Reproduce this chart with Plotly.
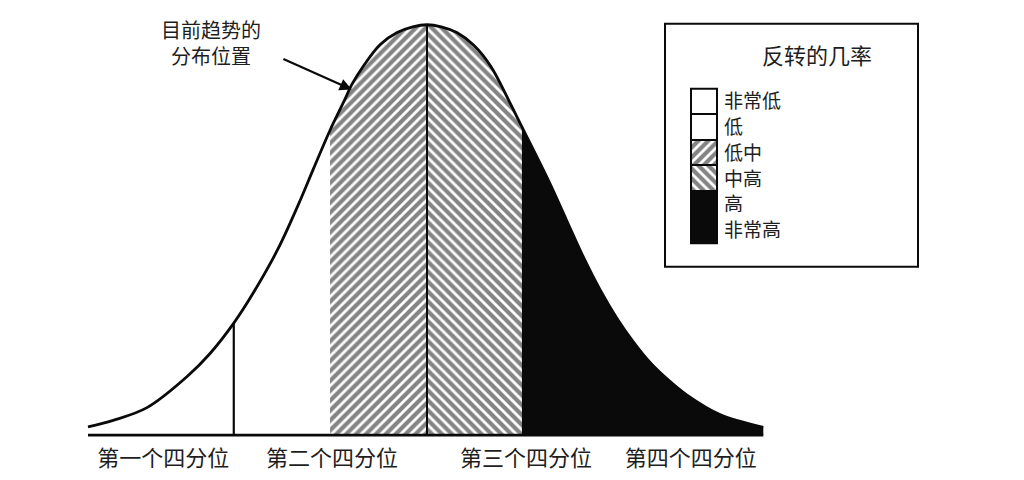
"""正态分布中的趋势位置与反转几率示意图"""
import plotly.graph_objects as go

# 分布曲线（读图估计，横轴以峰值为 0，纵轴峰值为 100）
curve_x = [-50, -46.3, -41.3, -35.3, -32, -28.5, -25.5, -22, -18.6, -16.8, -14.3, -12.2,
           -11.1, -9.4, -6.9, -4.4, -2.1, 0, 2.1, 4.4, 6.9, 9.4, 12.2, 14, 15.6, 18.1,
           20.6, 23, 25.5, 28, 30.4, 32.9, 35.4, 38.3, 43.2, 49.6]
curve_y = [2, 3.6, 6.7, 14.4, 19.9, 27.3, 35, 45.3, 57.6, 64.7, 74.3, 81.5,
           85.4, 89.9, 95.2, 98.1, 99.5, 100, 99.5, 98.1, 95, 89.9, 81.1, 75.1, 69.8, 61.4,
           52.3, 43.6, 35.5, 28.5, 22.8, 17.7, 13.7, 9.8, 5, 1.9]

# 分位边界
boundaries = [-28.5, -14.3, 0, 14]

# 横轴标签
quartile_pos = [-38.9, -14, 14.6, 38.9]
quartile_labels = ["第一个四分位", "第二个四分位", "第三个四分位", "第四个四分位"]

# 图例
legend_title = "反转的几率"
legend_labels = ["非常低", "低", "低中", "中高", "高", "非常高"]
legend_sizes = [1, 1, 1, 1, 1, 1]

note_text = "目前趋势的<br>分布位置"

# 页面有 8px 的边距，坐标按窗口像素换算
OFF = 8
W, H = 1024 - 2 * OFF, 480 - 2 * OFF
PLOT_BOTTOM = 448  # 窗口像素
INK = "#0a0a0a"
TXT = "#1e1e1e"
FONT = "Noto Sans CJK SC"


def px(x):
    return (x - OFF) / W


def py(y):
    return (PLOT_BOTTOM - y) / (PLOT_BOTTOM - OFF)


def segment(lo, hi):
    idx = [i for i, v in enumerate(curve_x) if lo <= v <= hi]
    return [curve_x[i] for i in idx], [curve_y[i] for i in idx]


def hatch(shape):
    return dict(shape=shape, fgcolor=INK, bgcolor="white", size=7, solidity=0.6)


fig = go.Figure()

# 阴影区域
sx, sy = segment(boundaries[1], boundaries[2])
fig.add_trace(go.Scatter(x=sx, y=sy, mode="lines", line=dict(width=0, shape="spline"),
                         fill="tozeroy", fillcolor="white", fillpattern=hatch("/")))
sx, sy = segment(boundaries[2], boundaries[3])
fig.add_trace(go.Scatter(x=sx, y=sy, mode="lines", line=dict(width=0, shape="spline"),
                         fill="tozeroy", fillcolor="white", fillpattern=hatch("\\")))
sx, sy = segment(boundaries[3], curve_x[-1])
fig.add_trace(go.Scatter(x=sx, y=sy, mode="lines", line=dict(width=0, shape="spline"),
                         fill="tozeroy", fillcolor=INK))

# 轮廓
fig.add_trace(go.Scatter(x=curve_x, y=curve_y, mode="lines",
                         line=dict(color=INK, width=2.8, shape="spline")))
fig.add_trace(go.Scatter(x=[curve_x[0], curve_x[-1]], y=[0, 0], mode="lines",
                         line=dict(color=INK, width=2.8)))
q1 = curve_x.index(boundaries[0])
fig.add_trace(go.Scatter(x=[boundaries[0]] * 2, y=[0, curve_y[q1]], mode="lines",
                         line=dict(color=INK, width=2.2)))
mid = curve_x.index(boundaries[2])
fig.add_trace(go.Scatter(x=[boundaries[2]] * 2, y=[0, curve_y[mid]], mode="lines",
                         line=dict(color=INK, width=2)))

# 图例色块
legend_fill = [
    dict(color="white"),
    dict(color="white"),
    dict(color="white", pattern=hatch("/")),
    dict(color="white", pattern=hatch("\\")),
    dict(color=INK),
    dict(color=INK),
]
for label, size, mk in zip(legend_labels, legend_sizes, legend_fill):
    fig.add_trace(go.Bar(x=[0], y=[size], width=1, name=label, xaxis="x2", yaxis="y2",
                         marker=dict(**mk, line=dict(color=INK, width=1.5))))

centers = []
acc = 0
for s in legend_sizes:
    centers.append(acc + s / 2)
    acc += s

# 窗口像素 -> 数据：x = (px - 427) / 6.78, y = (440 - py) / 4.17
fig.update_layout(
    width=W, height=H,
    margin=dict(l=0, r=0, t=0, b=OFF + H - PLOT_BOTTOM),
    plot_bgcolor="white", paper_bgcolor="white",
    showlegend=False, barmode="stack", bargap=0,
    font=dict(family=FONT, color=TXT),
    xaxis=dict(range=[(OFF - 427) / 6.78, (1024 - OFF - 427) / 6.78],
               showgrid=False, zeroline=False, showline=False,
               tickvals=quartile_pos, ticktext=quartile_labels, ticks="",
               tickfont=dict(size=22, family=FONT, color=TXT)),
    yaxis=dict(range=[(440 - PLOT_BOTTOM) / 4.17, (440 - OFF) / 4.17], visible=False),
    xaxis2=dict(domain=[px(691), px(717)], range=[-0.5, 0.5], anchor="y2", visible=False),
    yaxis2=dict(domain=[py(245), py(88)], range=[acc, 0], anchor="x2", side="right",
                showgrid=False, zeroline=False, showline=False, ticks="",
                ticklabelstandoff=6,
                tickvals=centers, ticktext=legend_labels,
                tickfont=dict(size=19, family=FONT, color=TXT)),
    shapes=[
        dict(type="rect", xref="paper", yref="paper", x0=px(665), x1=px(918),
             y0=py(269), y1=py(22), line=dict(color=INK, width=2)),
        dict(type="rect", xref="paper", yref="paper", x0=px(691), x1=px(717),
             y0=py(245), y1=py(88), line=dict(color=INK, width=2)),
    ],
)

fig.add_annotation(x=px(817), y=py(53), xref="paper", yref="paper", text=legend_title,
                   xanchor="center", yanchor="middle", showarrow=False,
                   font=dict(size=22, color=TXT))
fig.add_annotation(x=px(211), y=py(41), xref="paper", yref="paper", text=note_text,
                   xanchor="center", yanchor="middle", align="center", showarrow=False,
                   font=dict(size=20, color=TXT))
fig.add_annotation(x=-11.1, y=84.2, ax=-21.4, ay=91.8, xref="x", yref="y",
                   axref="x", ayref="y", text="", showarrow=True,
                   arrowhead=2, arrowsize=1.1, arrowwidth=2.2, arrowcolor=INK)

fig.write_html("out.html")
